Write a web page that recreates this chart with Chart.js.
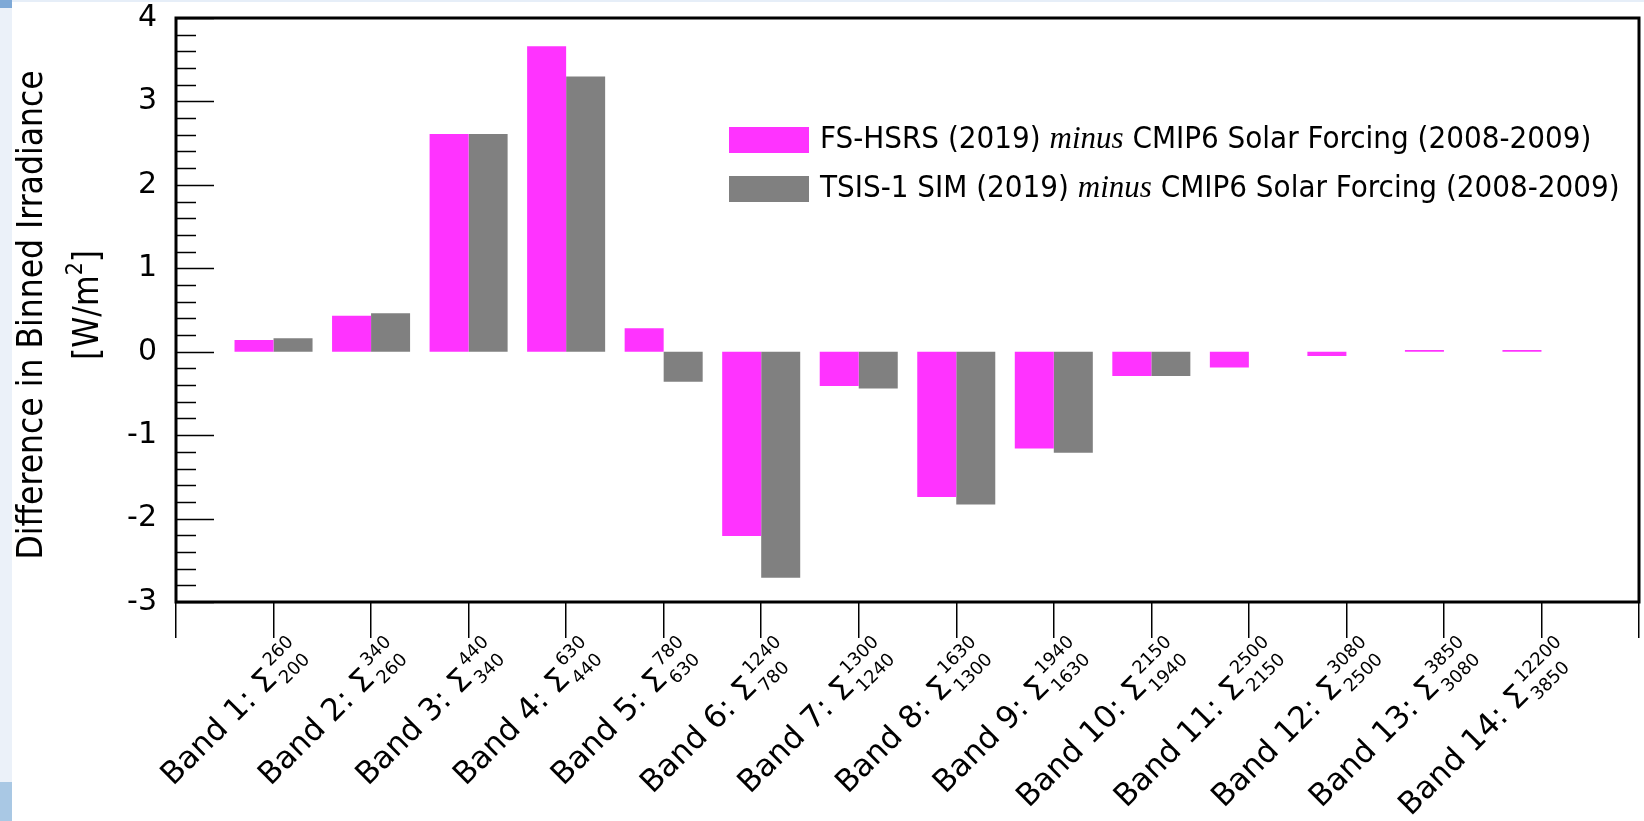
<!DOCTYPE html>
<html lang="en">
<head>
    <meta charset="UTF-8">
    <title>Difference in Binned Irradiance</title>
    <style>
        body {
            margin: 0;
            background-color: #ffffff;
            width: 1644px;
            height: 821px;
            overflow: hidden;
            position: relative;
        }
        .strip-top { position: absolute; left: 0; top: 0; width: 1644px; height: 2px; background: #e6eef8; }
        .strip-left { position: absolute; left: 0; top: 0; width: 12px; height: 821px; background: #ebf1f9; }
        .strip-left-top { position: absolute; left: 0; top: 0; width: 12px; height: 8px; background: #7ea9d7; }
        .strip-left-bottom { position: absolute; left: 0; top: 782px; width: 12px; height: 39px; background: #a9c8e4; }
        .chart-wrapper { position: absolute; left: 0; top: 0; width: 1644px; height: 821px; }
    </style>
</head>
<body>
    <div class="strip-top"></div>
    <div class="strip-left"></div>
    <div class="strip-left-top"></div>
    <div class="strip-left-bottom"></div>
    <div class="chart-wrapper">
        <canvas id="irradianceChart" width="1644" height="821"></canvas>
    </div>

    <script src="https://cdn.jsdelivr.net/npm/chart.js"></script>
    <script>
        // Bands and their wavelength limits (nm)
        const bandNames = ['Band 1', 'Band 2', 'Band 3', 'Band 4', 'Band 5', 'Band 6', 'Band 7',
                           'Band 8', 'Band 9', 'Band 10', 'Band 11', 'Band 12', 'Band 13', 'Band 14'];
        const waveLower = [200, 260, 340, 440, 630, 780, 1240, 1300, 1630, 1940, 2150, 2500, 3080, 3850];
        const waveUpper = [260, 340, 440, 630, 780, 1240, 1300, 1630, 1940, 2150, 2500, 3080, 3850, 12200];

        // Differences in W/m^2
        const fsHsrsDiff = [0.14, 0.43, 2.61, 3.66, 0.28, -2.21, -0.41, -1.74, -1.16, -0.29, -0.19, -0.05, 0.02, 0.02];
        const tsisSimDiff = [0.16, 0.46, 2.61, 3.30, -0.36, -2.71, -0.44, -1.83, -1.21, -0.29, 0, 0, 0, 0];

        const yTicks = [-3, -2, -1, 0, 1, 2, 3, 4];

        const seriesNames = [
            ['FS-HSRS (2019) ', 'minus', ' CMIP6 Solar Forcing (2008-2009)'],
            ['TSIS-1 SIM (2019) ', 'minus', ' CMIP6 Solar Forcing (2008-2009)']
        ];
        const yTitle = 'Difference in Binned Irradiance';

        // one empty slot at each end so the bands sit at 1..14 of 0..15
        const xLabels = [''].concat(bandNames, ['']);
        const pad = arr => [null].concat(arr, [null]);

        const SANS = "'DejaVu Sans', sans-serif";
        const COND = "'DejaVu Sans Condensed', 'Liberation Sans Narrow', sans-serif";

        // frame, inward y ticks, x labels, y title, legend
        const decorations = {
            id: 'decorations',
            afterDraw(chart) {
                const ctx = chart.ctx;
                const area = chart.chartArea;
                const yScale = chart.scales.y;
                const xScale = chart.scales.x;
                ctx.save();

                // y ticks pointing inward
                ctx.strokeStyle = '#000';
                ctx.lineWidth = 1.5;
                for (let k = 0; k <= 35; k++) {
                    const v = -3 + k * 0.2;
                    const major = k % 5 === 0;
                    const py = Math.round(yScale.getPixelForValue(v)) + 0.5;
                    ctx.beginPath();
                    ctx.moveTo(area.left, py);
                    ctx.lineTo(area.left + (major ? 38 : 20), py);
                    ctx.stroke();
                }

                // frame
                ctx.lineWidth = 3;
                ctx.strokeRect(area.left, area.top, area.right - area.left, area.bottom - area.top);

                // x labels: "Band N: Σ" with sub/superscripts, rotated 45°, right aligned as a whole
                ctx.fillStyle = '#000';
                bandNames.forEach((name, i) => {
                    const px = xScale.getPixelForValue(i + 1);
                    const sup = String(waveUpper[i]);
                    const sub = String(waveLower[i]);
                    ctx.save();
                    ctx.translate(px + 32, area.bottom + 52);
                    ctx.rotate(-Math.PI / 4);
                    ctx.textBaseline = 'alphabetic';
                    ctx.font = '18px ' + SANS;
                    const ws = Math.max(ctx.measureText(sup).width, ctx.measureText(sub).width) + 4;
                    ctx.textAlign = 'left';
                    ctx.fillText(sup, -ws + 4, -16);
                    ctx.fillText(sub, -ws + 3, 8);
                    ctx.font = '31px ' + SANS;
                    ctx.textAlign = 'right';
                    ctx.fillText(name + ': \u03A3', -ws, 0);
                    ctx.restore();
                });

                // y axis title (two lines)
                ctx.save();
                ctx.translate(33, (area.top + area.bottom) / 2);
                ctx.rotate(-Math.PI / 2);
                ctx.textAlign = 'center';
                ctx.textBaseline = 'middle';
                ctx.font = '35px ' + COND;
                ctx.fillText(yTitle, -5, 0);
                const a = '[W/m', b = '2', c = ']';
                const wa = ctx.measureText(a).width;
                const wc = ctx.measureText(c).width;
                ctx.font = '23px ' + COND;
                const wb = ctx.measureText(b).width;
                let x0 = 5 - (wa + wb + wc) / 2;
                ctx.textAlign = 'left';
                ctx.font = '35px ' + COND;
                ctx.fillText(a, x0, 56);
                ctx.font = '23px ' + COND;
                ctx.fillText(b, x0 + wa, 43);
                ctx.font = '35px ' + COND;
                ctx.fillText(c, x0 + wa + wb, 56);
                ctx.restore();

                // legend
                const rowsY = [140, 189];
                chart.data.datasets.forEach((ds, i) => {
                    const cy = rowsY[i];
                    ctx.fillStyle = ds.backgroundColor;
                    ctx.fillRect(729, cy - 13, 80, 26);
                    ctx.fillStyle = '#000';
                    ctx.textAlign = 'left';
                    ctx.textBaseline = 'middle';
                    let tx = 820;
                    seriesNames[i].forEach((part, j) => {
                        ctx.font = j === 1 ? "italic 31px 'Liberation Serif', serif" : '31px ' + COND;
                        ctx.fillText(part, tx, cy);
                        tx += ctx.measureText(part).width;
                    });
                });

                ctx.restore();
            }
        };

        const ctx = document.getElementById('irradianceChart').getContext('2d');
        const irradianceChart = new Chart(ctx, {
            type: 'bar',
            data: {
                labels: xLabels,
                datasets: [{
                    label: 'FS-HSRS (2019) minus CMIP6 Solar Forcing (2008-2009)',
                    data: pad(fsHsrsDiff),
                    backgroundColor: '#ff33ff',
                    borderWidth: 0
                }, {
                    label: 'TSIS-1 SIM (2019) minus CMIP6 Solar Forcing (2008-2009)',
                    data: pad(tsisSimDiff),
                    backgroundColor: '#808080',
                    borderWidth: 0
                }]
            },
            options: {
                responsive: false,
                animation: false,
                categoryPercentage: 0.8,
                barPercentage: 1.0,
                layout: { padding: { top: 18, right: 5, left: 0, bottom: 0 } },
                plugins: {
                    legend: { display: false },
                    tooltip: { enabled: false }
                },
                scales: {
                    x: {
                        offset: false,
                        grid: {
                            offset: false,
                            drawOnChartArea: false,
                            drawTicks: true,
                            tickLength: 36,
                            color: '#000',
                            lineWidth: 1.5
                        },
                        border: { display: false },
                        ticks: { display: false },
                        afterFit: s => { s.height = 219; }
                    },
                    y: {
                        min: -3,
                        max: 4,
                        afterBuildTicks: s => { s.ticks = yTicks.map(v => ({ value: v })); },
                        grid: { display: false, drawTicks: false },
                        border: { display: false },
                        ticks: {
                            color: '#000',
                            padding: 19,
                            font: { family: SANS, size: 30 }
                        },
                        afterFit: s => {
                            s.width = 176;
                            s.paddingTop = 0;
                            s.paddingBottom = 0;
                        }
                    }
                }
            },
            plugins: [decorations]
        });
    </script>
</body>
</html>
